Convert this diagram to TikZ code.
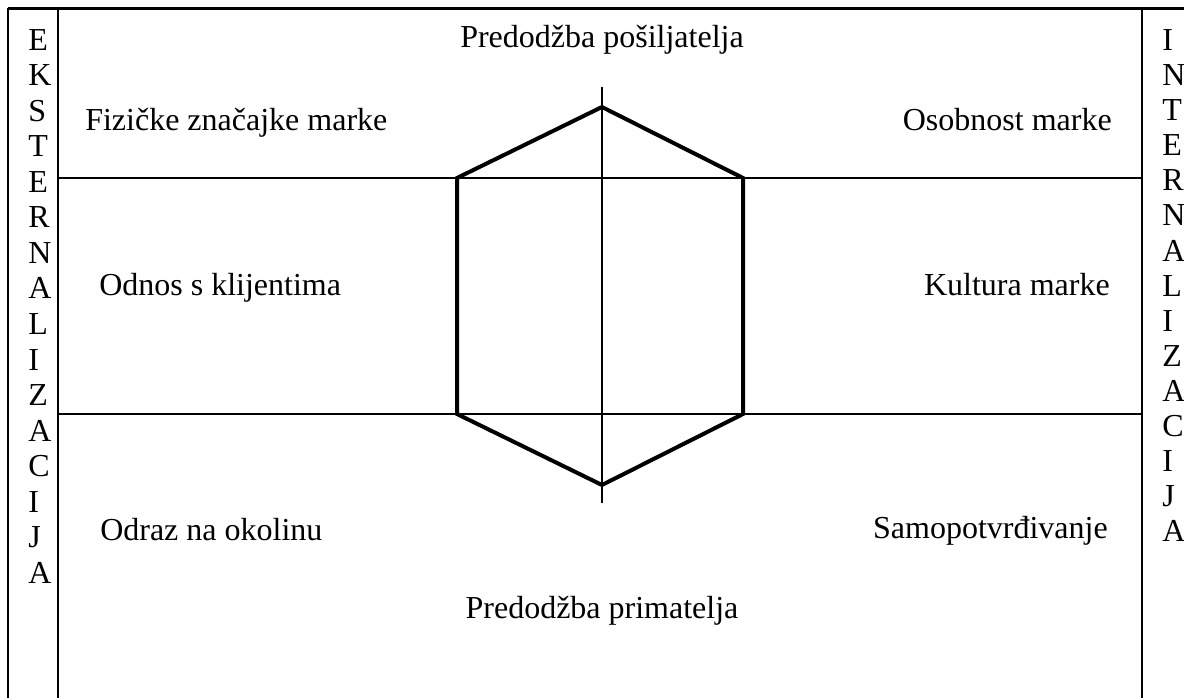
\documentclass[tikz,border=0pt]{standalone}
\usepackage{fontspec}
\setmainfont{Liberation Serif}

\begin{document}
\begin{tikzpicture}[
x=0.75pt, y=-0.75pt,
frame/.style={line width=1.5pt},
rowline/.style={line width=1pt},
hexline/.style={line width=3pt, line join=miter},
facet/.style={
font=\fontsize{24}{28}\selectfont,
inner sep=0 pt,
anchor=base,
},
letter/.style={facet, anchor=base west},
]
\useasboundingbox (0,0) rectangle (1184,698);

% frame
\path
(8,8.5) coordinate(tl)
(1184,8.5) coordinate(tr)
(8,698) coordinate(bl)
(58,8.5) coordinate(sl)
(58,698) coordinate(slb)
(1142,8.5) coordinate(sr)
(1142,698) coordinate(srb)
;
\draw[line width=2.25pt] (tl) -- (tr);
\draw[frame]
(tl) -- (bl)
(sl) -- (slb)
(sr) -- (srb)
;

% rows and axis
\path
(58,178) coordinate(r1l)
(1142,178) coordinate(r1r)
(58,414) coordinate(r2l)
(1142,414) coordinate(r2r)
(602,87) coordinate(ax1)
(602,503) coordinate(ax2)
;
\draw[rowline]
(r1l) -- (r1r)
(r2l) -- (r2r)
(ax1) -- (ax2)
;

% hexagon
\path
(602,107) coordinate(h1)
(743,178) coordinate(h2)
(743,414) coordinate(h3)
(602,485) coordinate(h4)
(457,414) coordinate(h5)
(457,178) coordinate(h6)
;
\draw[hexline] (h1) -- (h2) -- (h3) -- (h4) -- (h5) -- (h6) -- cycle;

% facets
\path
(602,48) node[facet] (send) {Predodžba pošiljatelja}
(85,131) node[facet, anchor=base west] (phys) {Fizičke značajke marke}
(1112,131) node[facet, anchor=base east] (pers) {Osobnost marke}
(99,296) node[facet, anchor=base west] (rel) {Odnos s klijentima}
(1110,296) node[facet, anchor=base east] (cult) {Kultura marke}
(100,540) node[facet, anchor=base west] (refl) {Odraz na okolinu}
(1108,538) node[facet, anchor=base east] (self) {Samopotvrđivanje}
(602,618) node[facet] (recv) {Predodžba primatelja}
;

% side columns
\foreach \l [count=\i from 0] in {E,K,S,T,E,R,N,A,L,I,Z,A,C,I,J,A}
\node[letter] (ext\i) at (28,{50.5+35.5*\i}) {\l};
\foreach \l [count=\i from 0] in {I,N,T,E,R,N,A,L,I,Z,A,C,I,J,A}
\node[letter] (int\i) at (1162,{50.5+35.1*\i}) {\l};

\end{tikzpicture}
\end{document}
